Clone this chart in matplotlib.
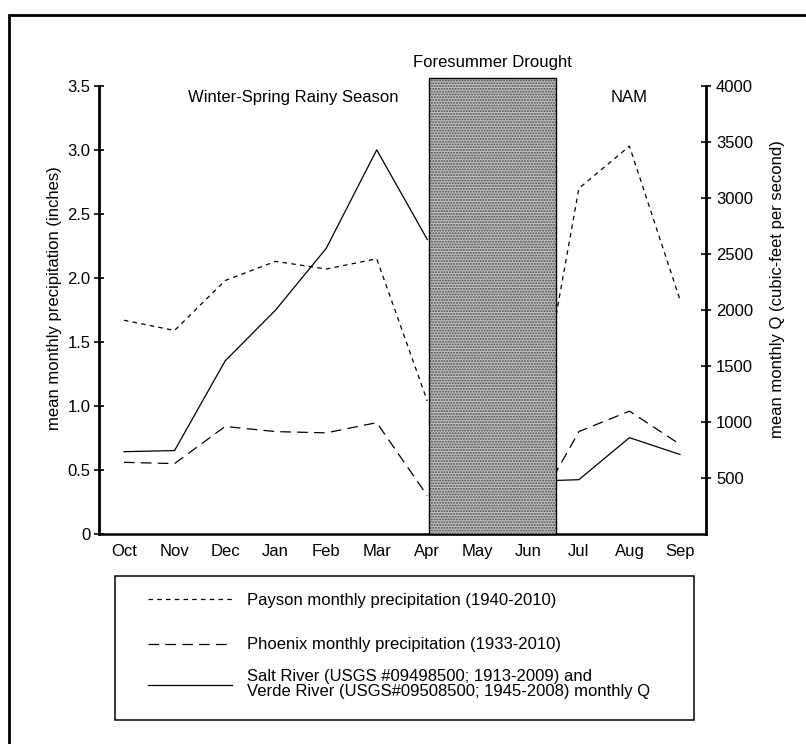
import numpy as np
import matplotlib
matplotlib.use("Agg")
import matplotlib.pyplot as plt
from matplotlib.patches import Rectangle
from matplotlib.lines import Line2D

plt.rcParams['font.family'] = ['Liberation Sans', 'DejaVu Sans']
plt.rcParams['font.size'] = 12

# months of the water year, Oct -> Sep
months = ["Oct", "Nov", "Dec", "Jan", "Feb", "Mar", "Apr", "May", "Jun", "Jul", "Aug", "Sep"]

# mean monthly precipitation (inches); May hidden under the drought box
payson_precip = [1.67, 1.59, 1.98, 2.13, 2.07, 2.15, 1.04, np.nan, 0.50, 2.70, 3.03, 1.83]
phoenix_precip = [0.56, 0.55, 0.84, 0.80, 0.79, 0.87, 0.30, np.nan, 0.10, 0.80, 0.96, 0.70]

# Salt + Verde mean monthly discharge (cfs)
river_q = [735, 745, 1545, 2000, 2550, 3430, 2630, np.nan, 470, 485, 860, 710]

left_ticks = [0, 0.5, 1.0, 1.5, 2.0, 2.5, 3.0, 3.5]
left_tick_labels = ["0", "0.5", "1.0", "1.5", "2.0", "2.5", "3.0", "3.5"]
right_ticks = [500, 1000, 1500, 2000, 2500, 3000, 3500, 4000]

# foresummer drought: early Apr to mid Jun (month index)
drought_start, drought_end = 6.04, 8.55

x = np.arange(len(months))

fig = plt.figure(figsize=(8.06, 7.44), dpi=100)
ax = fig.add_axes([99 / 806, 1 - 534 / 744, 607 / 806, 448 / 744])
ax2 = ax.twinx()

ax.plot(x, payson_precip, color="black", lw=0.9, dashes=(3.6, 3.4))
ax.plot(x, phoenix_precip, color="black", lw=0.9, dashes=(8.5, 5))
ax2.plot(x, river_q, color="black", lw=0.9)

# shaded drought box, drawn over the lines
box_top = 4075
ax2.add_patch(Rectangle((drought_start, 0), drought_end - drought_start, box_top,
                        facecolor="#c2c2c2", edgecolor="#4a4a4a", hatch="......",
                        lw=0, zorder=5, clip_on=False))
ax2.add_patch(Rectangle((drought_start, 0), drought_end - drought_start, box_top,
                        facecolor="none", edgecolor="black", lw=1.0, zorder=6, clip_on=False))

ax.set_xlim(-0.495, 11.515)
ax.set_ylim(0, 3.5)
ax2.set_ylim(0, 4000)

ax.set_xticks(x, months)
ax.tick_params(axis="x", length=0, pad=7)
ax.set_yticks(left_ticks, left_tick_labels)
ax.tick_params(axis="y", direction="inout", length=6.5, width=1.2, pad=3)
ax2.set_yticks(right_ticks, [str(t) for t in right_ticks])
ax2.tick_params(axis="y", direction="inout", length=6.5, width=1.2, pad=4)

for s in ["top", "right"]:
    ax.spines[s].set_visible(False)
for s in ["top", "left", "bottom"]:
    ax2.spines[s].set_visible(False)
ax.spines["left"].set_linewidth(2.0)
ax.spines["bottom"].set_linewidth(1.8)
ax2.spines["right"].set_linewidth(2.0)

ax.text(-0.0725, 0.527, "mean monthly precipitation (inches)", rotation=90,
        ha="center", va="center", transform=ax.transAxes)
ax.text(1.1186, 0.547, "mean monthly Q (cubic-feet per second)", rotation=90,
        ha="center", va="center", transform=ax.transAxes)

ax.text(1.27, 3.41, "Winter-Spring Rainy Season", ha="left", va="center")
ax.text(10.0, 3.41, "NAM", ha="center", va="center")
ax.text((drought_start + drought_end) / 2, 3.68, "Foresummer Drought",
        ha="center", va="center", clip_on=False)

# legend, drawn by hand in figure pixels
W, H = 806, 744
fig.patches.append(Rectangle((115 / W, 1 - 720 / H), 579 / W, 144 / H, transform=fig.transFigure,
                             facecolor="none", edgecolor="black", lw=1.1))
legend_rows = [
    ("Payson monthly precipitation (1940-2010)", (3.6, 3.4), 599, 600),
    ("Phoenix monthly precipitation (1933-2010)", (8.5, 5), 644, 645),
    ("Salt River (USGS #09498500; 1913-2009) and\nVerde River (USGS#09508500; 1945-2008) monthly Q",
     None, 685, 684),
]
for label, dash, ly, ty in legend_rows:
    ln = Line2D([148 / W, 232 / W], [1 - ly / H, 1 - ly / H], transform=fig.transFigure,
                color="black", lw=0.9)
    if dash:
        ln.set_dashes(dash)
    fig.lines.append(ln)
    fig.text(247 / W, 1 - ty / H, label, ha="left", va="center", linespacing=1.05)

# outer frame (runs off the right and bottom edges)
fig.patches.append(Rectangle((9 / W, -0.2), 1.2, 1.2 - 15 / H,
                             transform=fig.transFigure, facecolor="none",
                             edgecolor="black", lw=2.0))

fig.savefig("out.png", dpi=100)
